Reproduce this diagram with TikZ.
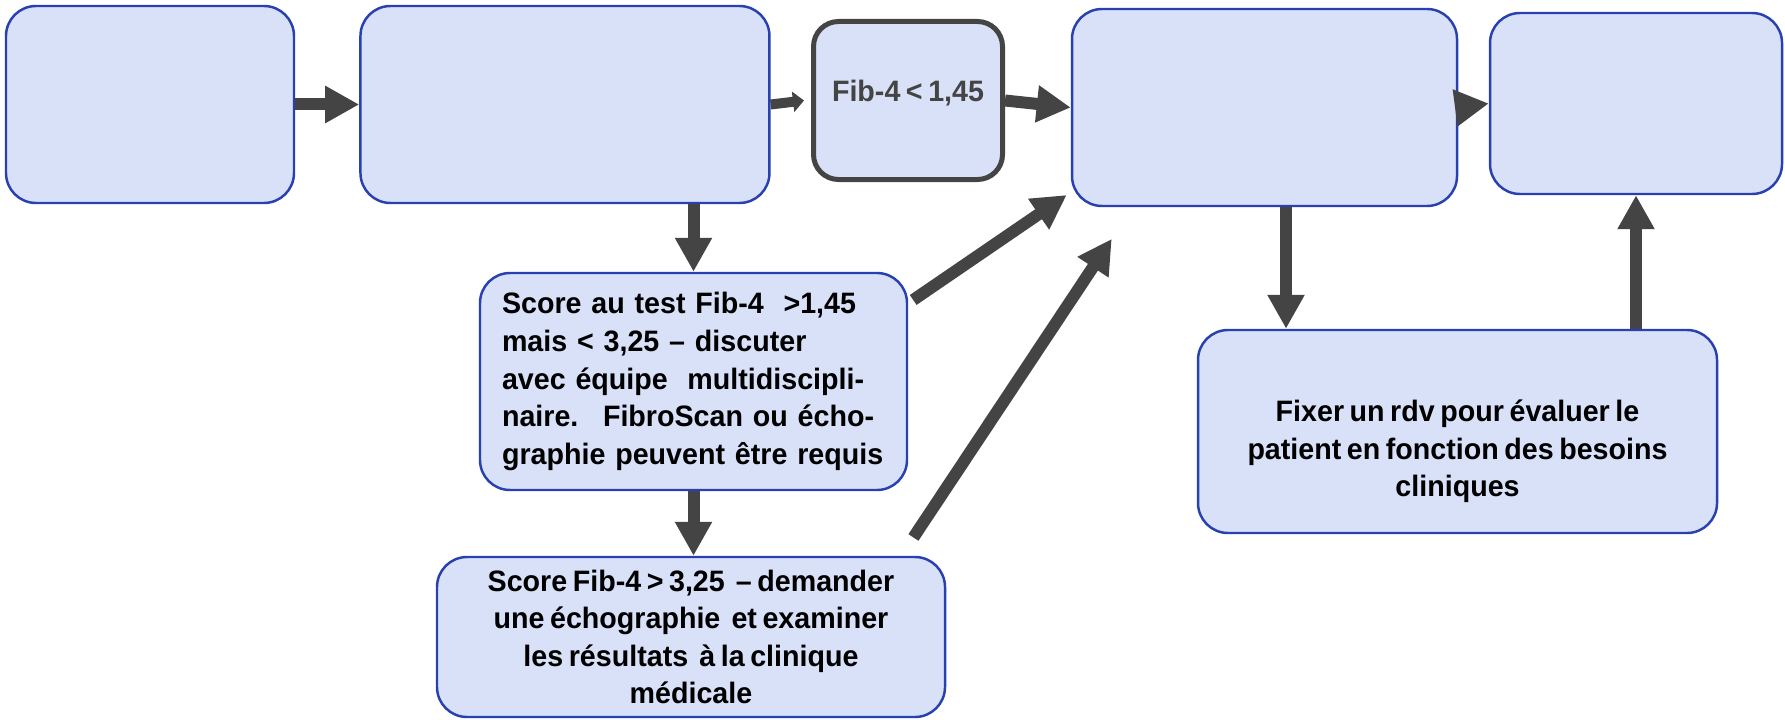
\documentclass[tikz,border=0pt]{standalone}
\usepackage{fontspec}
\setmainfont{Liberation Sans}[WordSpace=0.7, FakeStretch=0.97]
\usetikzlibrary{positioning}
\usetikzlibrary{calc}
\usetikzlibrary{arrows.meta}
\definecolor{boxfill}{RGB}{217,225,248}
\definecolor{boxline}{RGB}{40,64,176}
\definecolor{arrgray}{RGB}{68,68,68}
\tikzset{txt/.style={font=\bfseries\fontsize{8.4}{10.7}\selectfont}}
\tikzset{blk/.style={draw=boxline, line width=0.7pt, fill=boxfill, rounded corners=0.3cm, inner sep=0pt, txt}}
\tikzset{gbox/.style={draw=arrgray, line width=0.05cm, fill=boxfill, rounded corners=0.25cm, inner sep=0pt, text=arrgray, txt}}
\tikzset{arr/.style={draw=arrgray, line width=0.12cm, -{Triangle[width=0.35cm,length=0.34cm]}}}
\tikzset{arrsm/.style={draw=arrgray, line width=0.1cm, -{Triangle[width=0.2cm,length=0.11cm]}}}

\begin{document}
\begin{tikzpicture}
\useasboundingbox (0,0) rectangle (17.85,-7.19);

%%% Top row:

\node[blk, minimum width=2.88cm, minimum height=1.97cm] (A) at (1.50,-1.045) {};
\node[blk, minimum width=4.09cm, minimum height=1.97cm] (B) [right=0.64cm of A] {};
\node[gbox, minimum width=1.89cm, minimum height=1.58cm,
 label={[txt, text=arrgray, yshift=0.07cm]center:Fib-4 < 1,45}] (C) at (9.08,-1.005) {};
\node[blk, minimum width=3.85cm, minimum height=1.97cm] (D) at (12.645,-1.075) {};
\node[blk, minimum width=2.92cm, minimum height=1.81cm] (E) at (16.36,-1.035) {};

\draw[arr] (A) -- (B);
\draw[arrsm] (B.east) -- ([xshift=-0.07cm]C.west);
\draw[arr] (C.east) -- (D.west);
\draw[arr] (D.east) -- (E.west);

%%% Scores:

\node[blk, align=left, text width=3.83cm, inner xsep=0.22cm, minimum height=2.17cm] (F) at (6.935,-3.815)
 {Score au test Fib-4 \ >1,45\\
  mais < 3,25 -- discuter\\
  avec équipe \ multidiscipli-\\
  naire. \ FibroScan ou écho-\\
  graphie peuvent être requis};
\node[blk, align=center, minimum width=5.08cm, minimum height=1.60cm] (G) at (6.91,-6.37)
 {Score Fib-4 > 3,25 \ -- demander\\
  une échographie \ et examiner\\
  les résultats \ à la clinique\\
  médicale};

\draw[arr] (F.north |- B.south) -- (F.north);
\draw[arr] (F.south) -- (F.south |- G.north);
\draw[arr, shorten <=0.06cm, shorten >=0.05cm] (F.20) -- ([yshift=0.15cm]D.south west);
\draw[arr, shorten <=0.22cm, shorten >=0.38cm] ([xshift=-0.45cm]G.north east) -- ([xshift=0.62cm]D.south west);

%%% Right side:

\node[blk, minimum width=5.19cm, minimum height=2.03cm,
 label={[txt, align=center, yshift=-0.2cm]center:{Fixer un rdv pour évaluer le\\
  patient en fonction des besoins\\
  cliniques}}] (H) at (14.575,-4.315) {};

\draw[arr] ([xshift=0.215cm]D.south) -- ([xshift=0.215cm]D.south |- H.north);
\draw[arr] (E.south |- H.north) -- (E.south);

\end{tikzpicture}
\end{document}
